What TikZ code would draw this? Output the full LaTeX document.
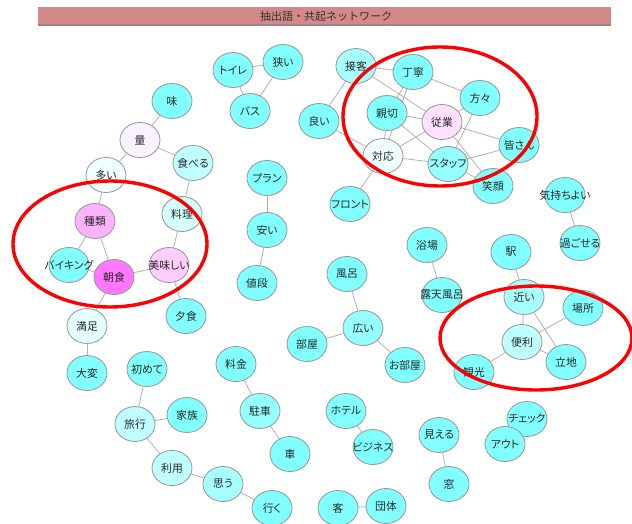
\documentclass[tikz,border=0pt]{standalone}
\usepackage{fontspec}
\newfontfamily\jp[RawFeature=+palt]{Noto Sans CJK JP}
\newfontfamily\jpfull{Noto Sans CJK JP}
\usetikzlibrary{shapes.geometric,backgrounds}

% node fill colours
\definecolor{cA}{RGB}{130,255,255}
\definecolor{cB}{RGB}{150,255,255}
\definecolor{cC}{RGB}{168,255,255}
\definecolor{cD}{RGB}{192,255,255}
\definecolor{cE}{RGB}{212,255,255}
\definecolor{cF}{RGB}{228,255,255}
\definecolor{cG}{RGB}{240,255,255}
\definecolor{pA}{RGB}{255,120,255}
\definecolor{pB}{RGB}{255,178,255}
\definecolor{pC}{RGB}{255,206,255}
\definecolor{pD}{RGB}{255,224,255}
\definecolor{lav}{RGB}{250,242,255}
\definecolor{ndline}{RGB}{150,150,150}
\definecolor{edgecol}{RGB}{178,178,178}
\definecolor{barfill}{RGB}{212,136,136}
\definecolor{barline}{RGB}{150,136,136}
\definecolor{hl}{RGB}{255,0,0}

\tikzset{
  nd/.style={ellipse, draw=ndline, line width=0.8pt, fill=cA,
    minimum width=40pt, minimum height=35pt, inner sep=0pt,
    font=\jp\fontsize{10.8}{12}\selectfont, text=black!85,
    execute at begin node={\hbox to 0pt\bgroup\hss},
    execute at end node={\hss\egroup}},
  lk/.style={draw=edgecol, line width=0.8pt},
  ring/.style={draw=hl, line width=3.4pt},
}

\begin{document}
\begin{tikzpicture}[x=1pt, y=-1pt]
\useasboundingbox (0,0) rectangle (632,524);

% title bar
\fill[barline] (38,24) rectangle (611,26.5);
\fill[barfill] (38,7) rectangle (611,24);
\node[font=\jpfull\fontsize{11}{12}\selectfont, text=black!80, inner sep=0pt] (title) at (326,16) {抽出語・共起ネットワーク};

% words
\node[nd] (aji) at (172,101) {味};
\node[nd, fill=lav] (ryo) at (140,140) {量};
\node[nd, fill=cD] (taberu) at (193,163) {食べる};
\node[nd, fill=cG] (ooi) at (106,175) {多い};
\node[nd] (toire) at (233,70) {トイレ};
\node[nd] (semai) at (283,62) {狭い};
\node[nd] (basu) at (250,111) {バス};
\node[nd] (yoi) at (319,121) {良い};
\node[nd, fill=cC] (sekkyaku) at (356,66) {接客};
\node[nd] (teinei) at (413,72) {丁寧};
\node[nd] (katagata) at (480,98) {方々};
\node[nd] (shinsetsu) at (387,113) {親切};
\node[nd, fill=pD] (jugyo) at (442,122) {従業};
\node[nd] (minasan) at (519,145) {皆さん};
\node[nd, fill=cG] (taio) at (383,156) {対応};
\node[nd, fill=cB] (staff) at (448,164) {スタッフ};
\node[nd] (egao) at (493,186) {笑顔};
\node[nd] (front) at (350,204) {フロント};
\node[nd] (kimochi) at (565,195) {気持ちよい};
\node[nd] (sugoseru) at (580,243) {過ごせる};
\node[nd] (yokujo) at (427,245) {浴場};
\node[nd] (roten) at (442,295) {露天風呂};
\node[nd] (eki) at (511,252) {駅};
\node[nd, fill=cC] (chikai) at (524,297) {近い};
\node[nd] (basho) at (583,308) {場所};
\node[nd, fill=cD] (benri) at (522,342) {便利};
\node[nd] (ritchi) at (566,362) {立地};
\node[nd] (kanko) at (474,372) {観光};
\node[nd] (furo) at (347,274) {風呂};
\node[nd, fill=cB] (hiroi) at (363,328) {広い};
\node[nd] (heya) at (307,344) {部屋};
\node[nd] (oheya) at (405,365) {お部屋};
\node[nd] (nedan) at (257,283) {値段};
\node[nd] (yasui) at (267,230) {安い};
\node[nd] (plan) at (267,178) {プラン};
\node[nd, fill=cE] (ryori) at (182,214) {料理};
\node[nd, fill=pB] (shurui) at (95,221) {種類};
\node[nd] (viking) at (69,265) {バイキング};
\node[nd, fill=pA] (choshoku) at (114,277) {朝食};
\node[nd, fill=pC] (oishii) at (169,265) {美味しい};
\node[nd] (yushoku) at (186,316) {夕食};
\node[nd, fill=cF] (manzoku) at (87,326) {満足};
\node[nd] (taihen) at (87,373) {大変};
\node[nd] (hajimete) at (147,369) {初めて};
\node[nd, fill=cD] (ryoko) at (135,424) {旅行};
\node[nd] (kazoku) at (187,415) {家族};
\node[nd, fill=cD] (riyo) at (172,468) {利用};
\node[nd, fill=cC] (omou) at (223,484) {思う};
\node[nd] (iku) at (272,508) {行く};
\node[nd] (ryokin) at (236,364) {料金};
\node[nd, fill=cB] (chusha) at (260,411) {駐車};
\node[nd] (kuruma) at (290,454) {車};
\node[nd] (hotel) at (346,411) {ホテル};
\node[nd] (business) at (373,447) {ビジネス};
\node[nd] (mieru) at (439,435) {見える};
\node[nd] (mado) at (449,484) {窓};
\node[nd] (check) at (527,419) {チェック};
\node[nd] (out) at (505,444) {アウト};
\node[nd] (kyaku) at (338,508) {客};
\node[nd] (dantai) at (386,506) {団体};

% co-occurrence links, behind the words
\begin{scope}[on background layer]
\fill[white] (0,0) rectangle (632,524);
\draw[lk] (aji.center) -- (ryo.center);
\draw[lk] (ryo.center) -- (ooi.center);
\draw[lk] (ryo.center) -- (taberu.center);
\draw[lk] (taberu.center) -- (ryori.center);
\draw[lk] (ooi.center) -- (shurui.center);
\draw[lk] (shurui.center) -- (viking.center);
\draw[lk] (shurui.center) -- (choshoku.center);
\draw[lk] (viking.center) -- (choshoku.center);
\draw[lk] (choshoku.center) -- (oishii.center);
\draw[lk] (choshoku.center) -- (manzoku.center);
\draw[lk] (ryori.center) -- (oishii.center);
\draw[lk] (oishii.center) -- (yushoku.center);
\draw[lk] (manzoku.center) -- (taihen.center);
\draw[lk] (toire.center) -- (semai.center);
\draw[lk] (toire.center) -- (basu.center);
\draw[lk] (semai.center) -- (basu.center);
\draw[lk] (plan.center) -- (yasui.center);
\draw[lk] (yasui.center) -- (nedan.center);
\draw[lk] (sekkyaku.center) -- (yoi.center);
\draw[lk] (sekkyaku.center) -- (teinei.center);
\draw[lk] (sekkyaku.center) -- (jugyo.center);
\draw[lk] (yoi.center) -- (taio.center);
\draw[lk] (teinei.center) -- (katagata.center);
\draw[lk] (teinei.center) -- (shinsetsu.center);
\draw[lk] (teinei.center) -- (taio.center);
\draw[lk] (shinsetsu.center) -- (jugyo.center);
\draw[lk] (shinsetsu.center) -- (staff.center);
\draw[lk] (shinsetsu.center) -- (taio.center);
\draw[lk] (jugyo.center) -- (katagata.center);
\draw[lk] (jugyo.center) -- (taio.center);
\draw[lk] (jugyo.center) -- (minasan.center);
\draw[lk] (jugyo.center) -- (egao.center);
\draw[lk] (katagata.center) -- (staff.center);
\draw[lk] (taio.center) -- (staff.center);
\draw[lk] (taio.center) -- (front.center);
\draw[lk] (staff.center) -- (minasan.center);
\draw[lk] (staff.center) -- (egao.center);
\draw[lk] (kimochi.center) -- (sugoseru.center);
\draw[lk] (yokujo.center) -- (roten.center);
\draw[lk] (eki.center) -- (chikai.center);
\draw[lk] (chikai.center) -- (benri.center);
\draw[lk] (chikai.center) -- (ritchi.center);
\draw[lk] (basho.center) -- (benri.center);
\draw[lk] (benri.center) -- (kanko.center);
\draw[lk] (benri.center) -- (ritchi.center);
\draw[lk] (furo.center) -- (hiroi.center);
\draw[lk] (hiroi.center) -- (heya.center);
\draw[lk] (hiroi.center) -- (oheya.center);
\draw[lk] (hajimete.center) -- (ryoko.center);
\draw[lk] (ryoko.center) -- (kazoku.center);
\draw[lk] (ryoko.center) -- (riyo.center);
\draw[lk] (riyo.center) -- (omou.center);
\draw[lk] (omou.center) -- (iku.center);
\draw[lk] (ryokin.center) -- (chusha.center);
\draw[lk] (chusha.center) -- (kuruma.center);
\draw[lk] (hotel.center) -- (business.center);
\draw[lk] (mieru.center) -- (mado.center);
\draw[lk] (check.center) -- (out.center);
\draw[lk] (kyaku.center) -- (dantai.center);
\end{scope}

% highlighted groups
\draw[ring] (110,244) ellipse [x radius=97, y radius=63];
\draw[ring] (440,116.5) ellipse [x radius=97, y radius=69.5];
\draw[ring] (536,338) ellipse [x radius=96, y radius=52];
\end{tikzpicture}
\end{document}
